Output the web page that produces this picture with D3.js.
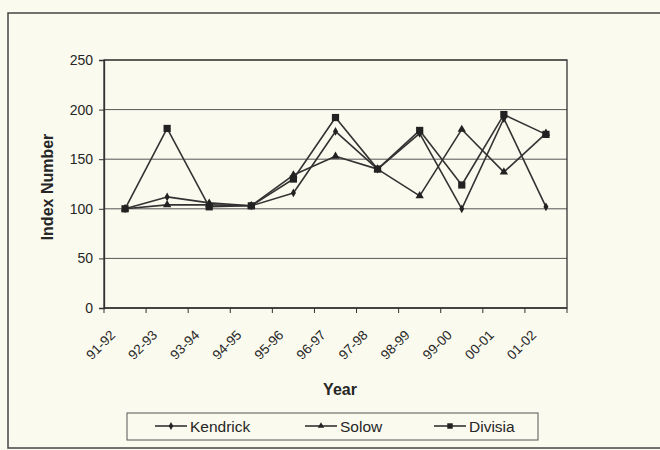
<!DOCTYPE html>
<html>
<head>
<meta charset="utf-8">
<script src="https://cdn.jsdelivr.net/npm/d3@7/dist/d3.min.js"></script>
<style>
  html, body { margin: 0; padding: 0; background: #fbfaee; }
  svg { display: block; }
  text { font-family: Arial, "Liberation Sans", sans-serif; fill: #262626; }
</style>
</head>
<body>
<svg id="chart" width="660" height="450"></svg>
<script>
// Index numbers by financial year
const years = ["91-92", "92-93", "93-94", "94-95", "95-96", "96-97", "97-98", "98-99", "99-00", "00-01", "01-02"];
const kendrick = [100, 112, 106, 103, 116, 178, 140, 176, 100, 191, 102];
const solow    = [100, 104, 104, 103, 134, 153, 140, 113, 180, 137, 176];
const divisia  = [100, 181, 102, 103, 130, 192, 140, 179, 124, 195, 175];
const yTicks = [0, 50, 100, 150, 200, 250];

const seriesList = [
  { name: "Kendrick", values: kendrick, marker: "diamond" },
  { name: "Solow", values: solow, marker: "triangle" },
  { name: "Divisia", values: divisia, marker: "square" }
];

const ink = "#333";
const svg = d3.select("#chart");

// Outer chart frame
svg.append("rect")
  .attr("x", 8).attr("y", 13).attr("width", 670).attr("height", 435)
  .attr("fill", "none").attr("stroke", "#444").attr("stroke-width", 1.5);

const plot = { left: 104, right: 567, top: 60, bottom: 308 };

const x = d3.scaleBand().domain(years).range([plot.left, plot.right]);
const y = d3.scaleLinear().domain([0, 250]).range([plot.bottom, plot.top]);
const cx = d => x(d) + x.bandwidth() / 2;

// Horizontal gridlines
svg.append("g")
  .selectAll("line")
  .data(yTicks.filter(t => t > 0))
  .join("line")
  .attr("x1", plot.left).attr("x2", plot.right)
  .attr("y1", d => y(d)).attr("y2", d => y(d))
  .attr("stroke", "#555").attr("stroke-width", 1);

// Plot border
svg.append("rect")
  .attr("x", plot.left).attr("y", plot.top)
  .attr("width", plot.right - plot.left).attr("height", plot.bottom - plot.top)
  .attr("fill", "none").attr("stroke", "#333").attr("stroke-width", 1.3);

// Y axis
const yAxis = svg.append("g")
  .attr("transform", `translate(${plot.left},0)`)
  .call(d3.axisLeft(y).tickValues(yTicks).tickSize(5).tickPadding(6));
yAxis.select(".domain").attr("stroke", "#333").attr("stroke-width", 1.3);
yAxis.selectAll(".tick line").attr("stroke", "#333");
yAxis.selectAll(".tick text")
  .style("font-size", "14px")
  .attr("fill", "#262626");

// X axis: ticks on band boundaries
const xAxisG = svg.append("g").attr("transform", `translate(0,${plot.bottom})`);
xAxisG.append("line")
  .attr("x1", plot.left).attr("x2", plot.right)
  .attr("stroke", "#333").attr("stroke-width", 1.3);
const boundaries = years.map(d => x(d)).concat([plot.right]);
xAxisG.selectAll("line.tk")
  .data(boundaries)
  .join("line").attr("class", "tk")
  .attr("x1", d => d).attr("x2", d => d)
  .attr("y1", 0).attr("y2", 5)
  .attr("stroke", "#333");
xAxisG.selectAll("text")
  .data(years)
  .join("text")
  .attr("transform", d => `translate(${cx(d) - 9},28) rotate(-45)`)
  .attr("text-anchor", "end")
  .style("font-size", "13.5px")
  .text(d => d);

// Axis titles
svg.append("text")
  .attr("transform", `translate(53,${(plot.top + plot.bottom) / 2 + 3}) rotate(-90)`)
  .attr("text-anchor", "middle")
  .style("font-size", "16px").style("font-weight", "bold")
  .text("Index Number");
svg.append("text")
  .attr("x", 340).attr("y", 395)
  .attr("text-anchor", "middle")
  .style("font-size", "16px").style("font-weight", "bold")
  .text("Year");

// Marker shapes
function markerPath(type, size) {
  if (type === "square") return d3.symbol().type(d3.symbolSquare).size(size || 52)();
  if (type === "triangle") return d3.symbol().type(d3.symbolTriangle).size(size || 30)();
  return d3.symbol().type(d3.symbolDiamond).size(size || 22)();
}

const line = d3.line()
  .x((d, i) => cx(years[i]))
  .y(d => y(d));

seriesList.forEach(s => {
  svg.append("path")
    .attr("d", line(s.values))
    .attr("fill", "none").attr("stroke", ink).attr("stroke-width", 1.6)
    .attr("stroke-linejoin", "round");
  svg.append("g")
    .selectAll("path")
    .data(s.values)
    .join("path")
    .attr("transform", (d, i) => `translate(${cx(years[i])},${y(d)})`)
    .attr("d", markerPath(s.marker))
    .attr("fill", "#222");
});

// Legend
const legend = svg.append("g");
legend.append("rect")
  .attr("x", 127).attr("y", 413).attr("width", 411).attr("height", 27)
  .attr("fill", "none").attr("stroke", "#555").attr("stroke-width", 1);
const legendX = [171, 321, 450];
seriesList.forEach((s, i) => {
  const lx = legendX[i];
  legend.append("line")
    .attr("x1", lx - 16).attr("x2", lx + 16)
    .attr("y1", 426).attr("y2", 426)
    .attr("stroke", ink).attr("stroke-width", 1.6);
  legend.append("path")
    .attr("transform", `translate(${lx},426)`)
    .attr("d", markerPath(s.marker, s.marker === "square" ? 30 : 18))
    .attr("fill", "#222");
  legend.append("text")
    .attr("x", lx + 19).attr("y", 426).attr("dy", "0.36em")
    .style("font-size", "15.5px")
    .text(s.name);
});
</script>
</body>
</html>
